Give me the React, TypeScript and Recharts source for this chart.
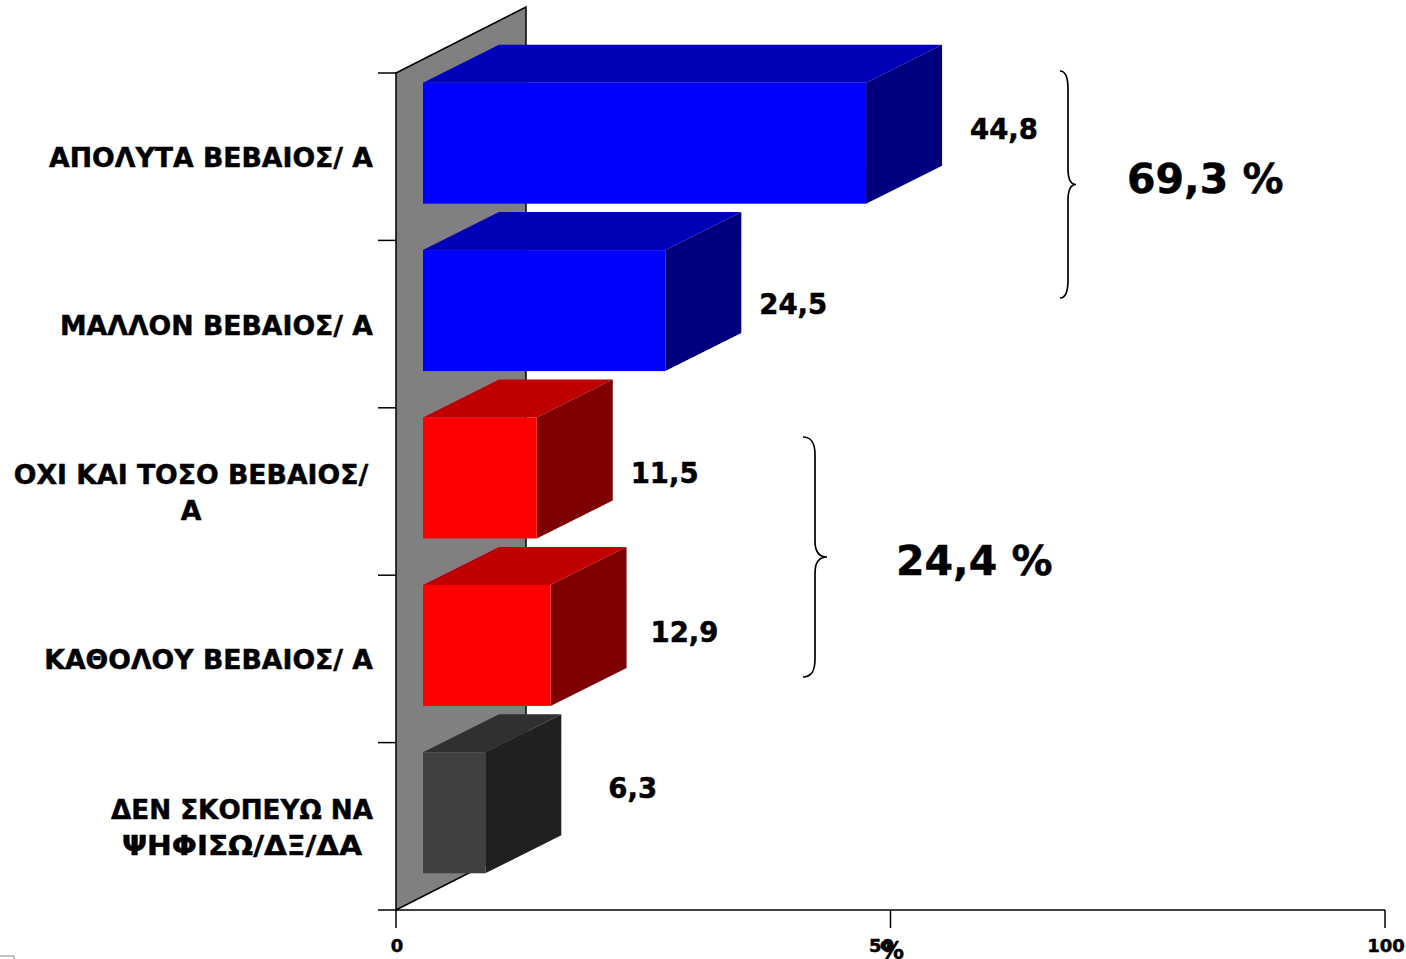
import { BarChart, Bar, XAxis, YAxis, LabelList, Customized } from 'recharts';

const categories = [
  ['ΑΠΟΛΥΤΑ ΒΕΒΑΙΟΣ/ Α'],
  ['ΜΑΛΛΟΝ ΒΕΒΑΙΟΣ/ Α'],
  ['ΟΧΙ ΚΑΙ ΤΟΣΟ ΒΕΒΑΙΟΣ/', 'Α'],
  ['ΚΑΘΟΛΟΥ ΒΕΒΑΙΟΣ/ Α'],
  ['ΔΕΝ ΣΚΟΠΕΥΩ ΝΑ', 'ΨΗΦΙΣΩ/ΔΞ/ΔΑ'],
];
const values = [44.8, 24.5, 11.5, 12.9, 6.3];
const valueTicks = [0, 50, 100];

const faceColors = [
  ['#0000ff', '#0000b8', '#00007f'],
  ['#0000ff', '#0000b8', '#00007f'],
  ['#ff0000', '#bf0000', '#7f0000'],
  ['#ff0000', '#bf0000', '#7f0000'],
  ['#404040', '#303030', '#202020'],
];
// hand placed in the original, so no single rule fits them
const labelShift = [
  [28, -21],
  [18, -13],
  [18, -12],
  [24, -20],
  [47, -31],
];
// these two lines run to a different width in the original
const lineWidths: Record<string, number> = {
  'ΔΕΝ ΣΚΟΠΕΥΩ ΝΑ': 262,
  'ΨΗΦΙΣΩ/ΔΞ/ΔΑ': 240,
};

const data = categories.map((lines, i) => ({ name: lines.join(' '), value: values[i] }));

const FONT = '"DejaVu Sans", sans-serif';
const W = 1406;
const H = 959;
const LEFT = 396;
const TOP = 73;
const BOTTOM = 910;
const RIGHT = 1385;
const BAND = (BOTTOM - TOP) / categories.length;
const DX = 76;
const DY = 38;
const WALL_X = 130;
const WALL_Y = 66;
const HEAVY = { stroke: '#000', strokeWidth: 0.5 };

function Box(props: any) {
  const { x, y, width, height, index } = props;
  const [front, top, side] = faceColors[index];
  const x0 = x + 27;
  const y0 = y - 13.3;
  const x1 = x0 + width;
  const y1 = y0 + height;
  return (
    <g>
      <polygon points={`${x0},${y0} ${x0 + DX},${y0 - DY} ${x1 + DX},${y0 - DY} ${x1},${y0}`} fill={top} />
      <polygon points={`${x1},${y0} ${x1 + DX},${y0 - DY} ${x1 + DX},${y1 - DY} ${x1},${y1}`} fill={side} />
      <rect x={x0} y={y0} width={width} height={height} fill={front} />
    </g>
  );
}

function CategoryTick(props: any) {
  const { y, index } = props;
  const lines = categories[index];
  const anchorX = lines.length > 1 ? (index === 2 ? 191 : 242) : 373;
  return (
    <g>
      <line x1={378} x2={LEFT} y1={y - BAND / 2} y2={y - BAND / 2} stroke="#000" strokeWidth={1.5} />
      {index === categories.length - 1 && (
        <line x1={378} x2={LEFT} y1={y + BAND / 2} y2={y + BAND / 2} stroke="#000" strokeWidth={1.5} />
      )}
      {lines.map((line, i) => (
        <text
          key={line}
          x={anchorX}
          y={y + (i - (lines.length - 1) / 2) * 36 + 10.5}
          textAnchor={lines.length > 1 ? 'middle' : 'end'}
          fontFamily={FONT}
          fontWeight="bold"
          fontSize={26.7}
          fill="#000"
          {...HEAVY}
          {...(lineWidths[line] ? { textLength: lineWidths[line], lengthAdjust: 'spacingAndGlyphs' } : {})}
        >
          {line}
        </text>
      ))}
    </g>
  );
}

function ValueLabel(props: any) {
  const { x, y, width, height, index } = props;
  const [sx, sy] = labelShift[index];
  return (
    <text
      x={x + 27 + width + DX + sx}
      y={y + height / 2 + 13.3 + sy - 10}
      fontFamily={FONT}
      fontWeight="bold"
      fontSize={27.5}
      fill="#000"
      {...HEAVY}
    >
      {String(values[index]).replace('.', ',')}
    </text>
  );
}

function Wall() {
  return (
    <polygon
      points={`${LEFT},${TOP} ${LEFT + WALL_X},${TOP - WALL_Y} ${LEFT + WALL_X},${BOTTOM - WALL_Y} ${LEFT},${BOTTOM}`}
      fill="#808080"
      stroke="#000"
      strokeWidth={1.5}
    />
  );
}

function Brace({ x, y1, y2, w }: { x: number; y1: number; y2: number; w: number }) {
  const mid = (y1 + y2) / 2;
  const d = `M${x - w},${y1} C${x - 2},${y1} ${x},${y1 + 8} ${x},${y1 + 18} L${x},${mid - 16} C${x},${mid - 6} ${x + 3},${mid} ${x + w},${mid} C${x + 3},${mid} ${x},${mid + 6} ${x},${mid + 16} L${x},${y2 - 18} C${x},${y2 - 8} ${x - 2},${y2} ${x - w},${y2}`;
  return <path d={d} fill="none" stroke="#000" strokeWidth={1.7} />;
}

function AxisTick(props: any) {
  const { x, y, payload } = props;
  // the middle label sits left of its tick in the original
  const tx = payload.value === 50 ? x - 9 : x + 1;
  return (
    <text x={tx} y={y + 24} textAnchor="middle" fontFamily={FONT} fontWeight="bold" fontSize={18} fill="#000" {...HEAVY}>
      {payload.value}
    </text>
  );
}

function Notes() {
  const big = { fontFamily: FONT, fontWeight: 'bold', fontSize: 41, fill: '#000', ...HEAVY } as any;
  return (
    <g>
      <Brace x={1068} y1={71} y2={298} w={8} />
      <text x={1127} y={193} {...big}>69,3 %</text>
      <Brace x={815} y1={437} y2={677} w={12} />
      <text x={896} y={575} {...big}>24,4 %</text>
      <text x={892} y={959} fontFamily={FONT} fontWeight="bold" fontSize={24} textAnchor="middle" fill="#000" {...HEAVY}>%</text>
      <rect x={-1} y={956} width={15} height={6} fill="#fff" stroke="#888" />
    </g>
  );
}

export default function App() {
  return (
    <div style={{ position: 'absolute', left: 0, top: 0, width: W, height: H, background: '#fff' }}>
      <BarChart
        width={W}
        height={H}
        data={data}
        layout="vertical"
        margin={{ top: TOP, right: W - RIGHT, left: 0, bottom: 0 }}
        barSize={121}
      >
        <Customized component={Wall} />
        <XAxis
          type="number"
          domain={[0, 100]}
          ticks={valueTicks}
          height={H - BOTTOM}
          tickSize={18}
          tickMargin={0}
          stroke="#000"
          strokeWidth={1.5}
          interval={0}
          tick={<AxisTick />}
        />
        <YAxis
          type="category"
          dataKey="name"
          width={LEFT}
          tickLine={false}
          axisLine={false}
          interval={0}
          tick={<CategoryTick />}
        />
        <Bar dataKey="value" isAnimationActive={false} shape={<Box />}>
          <LabelList dataKey="value" content={<ValueLabel />} />
        </Bar>
        <Customized component={Notes} />
      </BarChart>
    </div>
  );
}
